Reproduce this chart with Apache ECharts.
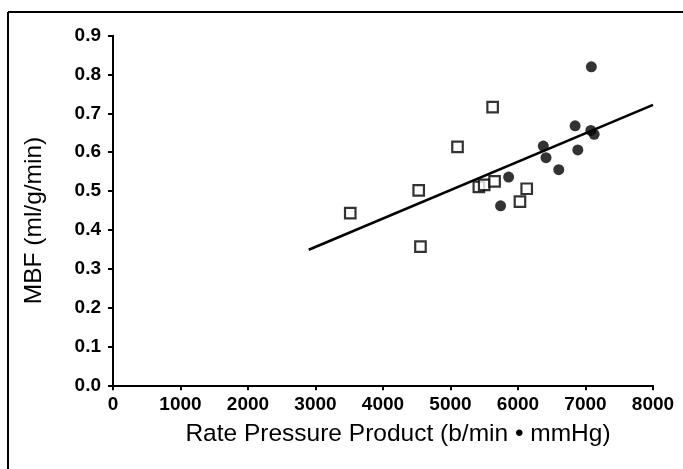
<!DOCTYPE html>
<html><head><meta charset="utf-8">
<script src="https://cdn.jsdelivr.net/npm/echarts@6/dist/echarts.min.js"></script>
<style>html,body{margin:0;padding:0;background:#fff}#c{width:683px;height:469px}</style>
</head><body><div id="c"></div>
<script>
// Open squares group
const squaresX = [3515, 4529, 4555, 5104, 5420, 5499, 5624, 5653, 6029, 6129];
const squaresY = [0.443, 0.502, 0.357, 0.614, 0.511, 0.516, 0.716, 0.525, 0.473, 0.506];
// Filled circles group
const circlesX = [5742, 5861, 6375, 6415, 6604, 6846, 6886, 7079, 7087, 7128];
const circlesY = [0.462, 0.536, 0.616, 0.586, 0.555, 0.668, 0.606, 0.656, 0.820, 0.646];
// Regression line end points
const lineX = [2900, 8000];
const lineY = [0.349, 0.722];
const xTicks = [0, 1000, 2000, 3000, 4000, 5000, 6000, 7000, 8000];
const yTicks = [0.0, 0.1, 0.2, 0.3, 0.4, 0.5, 0.6, 0.7, 0.8, 0.9];

const zip = (a, b) => a.map((v, i) => [v, b[i]]);
const chart = echarts.init(document.getElementById('c'), null, {renderer: 'canvas'});
const font = 'Liberation Sans, Arial, Helvetica, sans-serif';
chart.setOption({
  animation: false,
  backgroundColor: '#fff',
  grid: {left: 113, right: 30, top: 35.7, bottom: 83.7},
  xAxis: {
    type: 'value', min: xTicks[0], max: xTicks[xTicks.length - 1], interval: 1000,
    name: 'Rate Pressure Product (b/min \u2022 mmHg)', nameLocation: 'middle', nameGap: 36,
    nameTextStyle: {fontFamily: font, fontSize: 24.5, color: '#000', padding: [0, 0, 0, 30], verticalAlign: 'top'},
    axisLine: {show: true, onZero: false, lineStyle: {color: '#000', width: 2}},
    axisTick: {show: true, inside: false, length: 5, lineStyle: {color: '#000', width: 2}},
    axisLabel: {fontFamily: font, fontSize: 19, fontWeight: 'bold', color: '#000', margin: 10,
      formatter: v => String(v)},
    splitLine: {show: false}
  },
  yAxis: {
    type: 'value', min: yTicks[0], max: yTicks[yTicks.length - 1], interval: 0.1,
    name: 'MBF (ml/g/min)', nameLocation: 'middle', nameGap: 66,
    nameTextStyle: {fontFamily: font, fontSize: 24.5, color: '#000', padding: [0, 20, 0, 0]},
    axisLine: {show: true, onZero: false, lineStyle: {color: '#000', width: 2}},
    axisTick: {show: true, inside: false, length: 5, lineStyle: {color: '#000', width: 2}},
    axisLabel: {fontFamily: font, fontSize: 19, fontWeight: 'bold', color: '#000', margin: 12,
      formatter: v => v.toFixed(1)},
    splitLine: {show: false}
  },
  graphic: [
    {type: 'line', shape: {x1: 8, y1: 12, x2: 683, y2: 12}, style: {stroke: '#000', lineWidth: 2}},
    {type: 'line', shape: {x1: 8, y1: 12, x2: 8, y2: 469}, style: {stroke: '#000', lineWidth: 2}}
  ],
  series: [
    {type: 'line', data: zip(lineX, lineY), symbol: 'none', lineStyle: {color: '#000', width: 2.5}, z: 1},
    {type: 'scatter', data: zip(squaresX, squaresY), symbol: 'rect', symbolSize: 10.5,
      itemStyle: {color: '#fff', borderColor: '#000', borderWidth: 2.2}, z: 3},
    {type: 'scatter', data: zip(circlesX, circlesY), symbol: 'circle', symbolSize: 11,
      itemStyle: {color: '#000'}, z: 4}
  ]
});
</script></body></html>
